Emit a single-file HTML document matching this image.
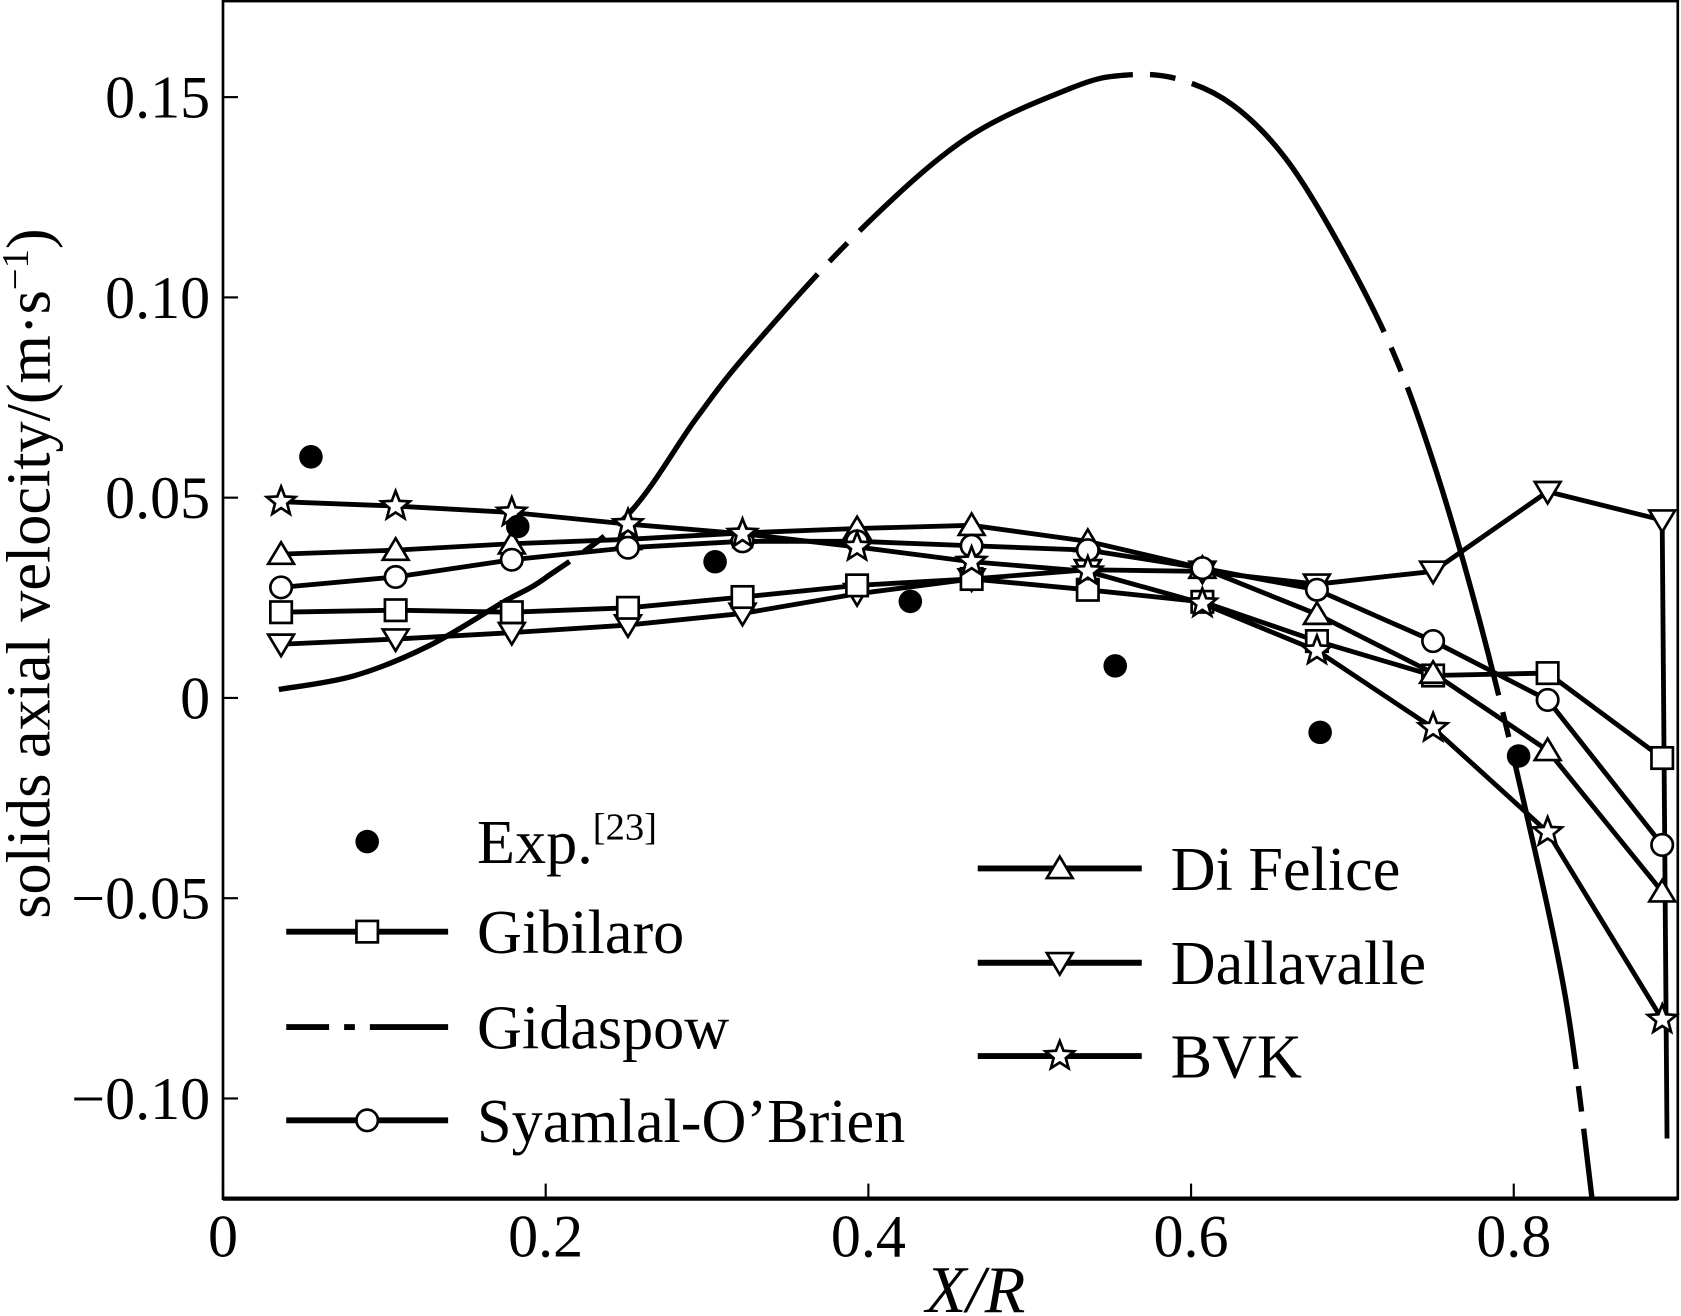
<!DOCTYPE html>
<html><head><meta charset="utf-8"><style>
html,body{margin:0;padding:0;background:#fff;}
svg{display:block;}
text{font-family:"Liberation Serif",serif;fill:#000;}
</style></head><body>
<svg id="chart" width="1681" height="1316" viewBox="0 0 1568 1227.5" preserveAspectRatio="none" xmlns="http://www.w3.org/2000/svg">
<g id="axes"></g>
<g id="series"></g>
<g id="legend"></g>
</svg>
<script>
const xTicks=[0,0.2,0.4,0.6,0.8];
const xTickLabels=["0","0.2","0.4","0.6","0.8"];
const yTicks=[0.15,0.10,0.05,0,-0.05,-0.10];
const yTickLabels=["0.15","0.10","0.05","0","\u22120.05","\u22120.10"];
const xs=[0.036,0.107,0.179,0.251,0.322,0.393,0.464,0.536,0.607,0.678,0.750,0.821,0.892];
const gibilaro=[0.0214,0.0219,0.0214,0.0225,0.0252,0.0281,0.0297,0.027,0.024,0.0142,0.0056,0.0062,-0.015];
const dallavalle=[0.0134,0.0147,0.0163,0.0182,0.0211,0.026,0.0297,0.032,0.0316,0.0284,0.0316,0.0515,0.0444];
const difelice=[0.0359,0.0369,0.0385,0.0396,0.0412,0.0423,0.0431,0.0391,0.0324,0.0209,0.0062,-0.0131,-0.0484];
const syamlal=[0.0276,0.0302,0.0345,0.0375,0.0391,0.0391,0.038,0.0369,0.0324,0.027,0.0142,-0.0005,-0.0367];
const bvk=[0.049,0.0479,0.0463,0.0434,0.041,0.0377,0.034,0.0316,0.0236,0.0118,-0.0075,-0.0335,-0.0803];
const expX=[0.0545,0.1827,0.305,0.426,0.553,0.680,0.803];
const expY=[0.0602,0.0428,0.034,0.0241,0.008,-0.0086,-0.0145];
const gidX=[0.0346,0.081,0.1276,0.174,0.2,0.251,0.2937,0.327,0.393,0.46,0.526,0.559,0.592,0.626,0.659,0.692,0.7256,0.752,0.779,0.805,0.832,0.8485];
const gidY=[0.0021,0.0055,0.0130,0.0240,0.0300,0.0458,0.0700,0.0870,0.1160,0.1395,0.1523,0.1555,0.1545,0.1480,0.1345,0.1130,0.0860,0.0565,0.0190,-0.0238,-0.0747,-0.125];

const NS="http://www.w3.org/2000/svg";
const X0=208,X1=1565,Y0=0,Y1=1118;
function sx(v){return 208+v*1505;}
function sy(v){return 651-v*3736;}
function mk(tag,attrs,parent){const e=document.createElementNS(NS,tag);for(const k in attrs)e.setAttribute(k,attrs[k]);parent.appendChild(e);return e;}
const axes=document.getElementById('axes'),ser=document.getElementById('series'),leg=document.getElementById('legend');

let fr=mk('rect',{x:X0,y:Y0+1,width:X1-X0,height:Y1-1,fill:'none',stroke:'#000','stroke-width':2.5},axes);


let bl=mk('line',{x1:X0,x2:X1,y1:Y1,y2:Y1,stroke:'#000','stroke-width':4},axes);


xTicks.forEach((t,i)=>{
  let l=mk('line',{x1:sx(t),x2:sx(t),y1:Y1,y2:Y1-14,stroke:'#000','stroke-width':2},axes);
  
  
  let tx=mk('text',{x:sx(t),y:1172,'font-size':56,'text-anchor':'middle'},axes);
  tx.textContent=xTickLabels[i];
  
  
});
yTicks.forEach((t,i)=>{
  let l=mk('line',{x1:X0,x2:X0+14,y1:sy(t),y2:sy(t),stroke:'#000','stroke-width':2},axes);
  
  
  let tx=mk('text',{x:196,y:sy(t)+19,'font-size':56,'text-anchor':'end'},axes);
  tx.textContent=yTickLabels[i];
  
  
});
let xl=mk('text',{x:910,y:1224,'font-size':62,'text-anchor':'middle','font-style':'italic'},axes);
xl.textContent='X/R';


let yl=mk('text',{x:0,y:0,'font-size':58,'text-anchor':'middle',transform:'translate(46,535) rotate(-90)'},axes);
yl.innerHTML='solids axial velocity/(m\u00b7s<tspan dy="-20" font-size="36">\u22121</tspan><tspan dy="20">)</tspan>';



function marker(type,cx,cy,parent){
  const a={fill:'#fff',stroke:'#000','stroke-width':2.5};let e;
  if(type==='square'){e=mk('rect',Object.assign({x:cx-10,y:cy-10,width:20,height:20},a),parent);}
  else if(type==='circle'){e=mk('circle',Object.assign({cx:cx,cy:cy,r:10},a),parent);}
  else if(type==='up'){e=mk('polygon',Object.assign({points:`${cx},${cy-11} ${cx+12},${cy+9} ${cx-12},${cy+9}`},a),parent);}
  else if(type==='down'){e=mk('polygon',Object.assign({points:`${cx},${cy+11} ${cx+12},${cy-9} ${cx-12},${cy-9}`},a),parent);}
  else if(type==='star'){let p=[];for(let k=0;k<10;k++){const r=k%2?6:14,an=-Math.PI/2+k*Math.PI/5;p.push((cx+r*Math.cos(an)).toFixed(1)+','+(cy+r*Math.sin(an)).toFixed(1));}e=mk('polygon',Object.assign({points:p.join(' ')},a),parent);}
  else if(type==='dot'){e=mk('circle',{cx:cx,cy:cy,r:11,fill:'#000'},parent);}
  return e;
}
function series(name,vals,type,extra){
  const g=mk('g',{},ser);
  
  
  let pts=xs.map((x,i)=>sx(x)+','+sy(vals[i]));
  if(extra)pts.push(sx(extra[0])+','+sy(extra[1]));
  let pl=mk('polyline',{points:pts.join(' '),fill:'none',stroke:'#000','stroke-width':4.5},g);
  
  
  xs.forEach((x,i)=>{let m=marker(type,sx(x),sy(vals[i]),g);
    
    });
}
// Gidaspow curve (smooth Catmull-Rom)
function smoothPath(px,py){
  let d='M'+px[0]+','+py[0];
  for(let i=0;i<px.length-1;i++){
    const i0=Math.max(0,i-1),i3=Math.min(px.length-1,i+2);
    const c1x=px[i]+(px[i+1]-px[i0])/6,c1y=py[i]+(py[i+1]-py[i0])/6;
    const c2x=px[i+1]-(px[i3]-px[i])/6,c2y=py[i+1]-(py[i3]-py[i])/6;
    d+=` C${c1x.toFixed(1)},${c1y.toFixed(1)} ${c2x.toFixed(1)},${c2y.toFixed(1)} ${px[i+1].toFixed(1)},${py[i+1].toFixed(1)}`;
  }
  return d;
}
let gp=mk('path',{d:smoothPath(gidX.map(sx),gidY.map(sy)),fill:'none',stroke:'#000','stroke-width':5,'stroke-dasharray':'300 16 24 16','stroke-linejoin':'round'},ser);


series('dallavalle',dallavalle,'down',[0.895,-0.11]);
series('gibilaro',gibilaro,'square');
series('difelice',difelice,'up');
series('syamlal',syamlal,'circle');
series('bvk',bvk,'star');
expX.forEach((x,i)=>{let m=marker('dot',sx(x),sy(expY[i]),ser);
  
  });

// legend
function legItem(name,x1,x2,y,type,label,dash){
  const g=mk('g',{},leg);
  
  
  if(type!=='dot'){mk('line',Object.assign({x1:x1,x2:x2,y1:y,y2:y,stroke:'#000','stroke-width':5.5},dash?{'stroke-dasharray':dash}:{}),g);}
  if(type)marker(type,(x1+x2)/2,y,g);
  let t=mk('text',{x:x2+27,y:y+20,'font-size':58},g);
  t.innerHTML=label;
}
legItem('exp',267,418,785,'dot','Exp.<tspan dy="-22" font-size="36">[23]</tspan>');
legItem('gibilaro',267,418,869,'square','Gibilaro');
legItem('gidaspow',267,418,958,null,'Gidaspow','40 14 10 14 80');
legItem('syamlal',267,418,1045,'circle','Syamlal-O\u2019Brien');
legItem('difelice',912,1065,810,'up','Di Felice');
legItem('dallavalle',912,1065,898,'down','Dallavalle');
legItem('bvk',912,1065,985,'star','BVK');
</script>
</body></html>
